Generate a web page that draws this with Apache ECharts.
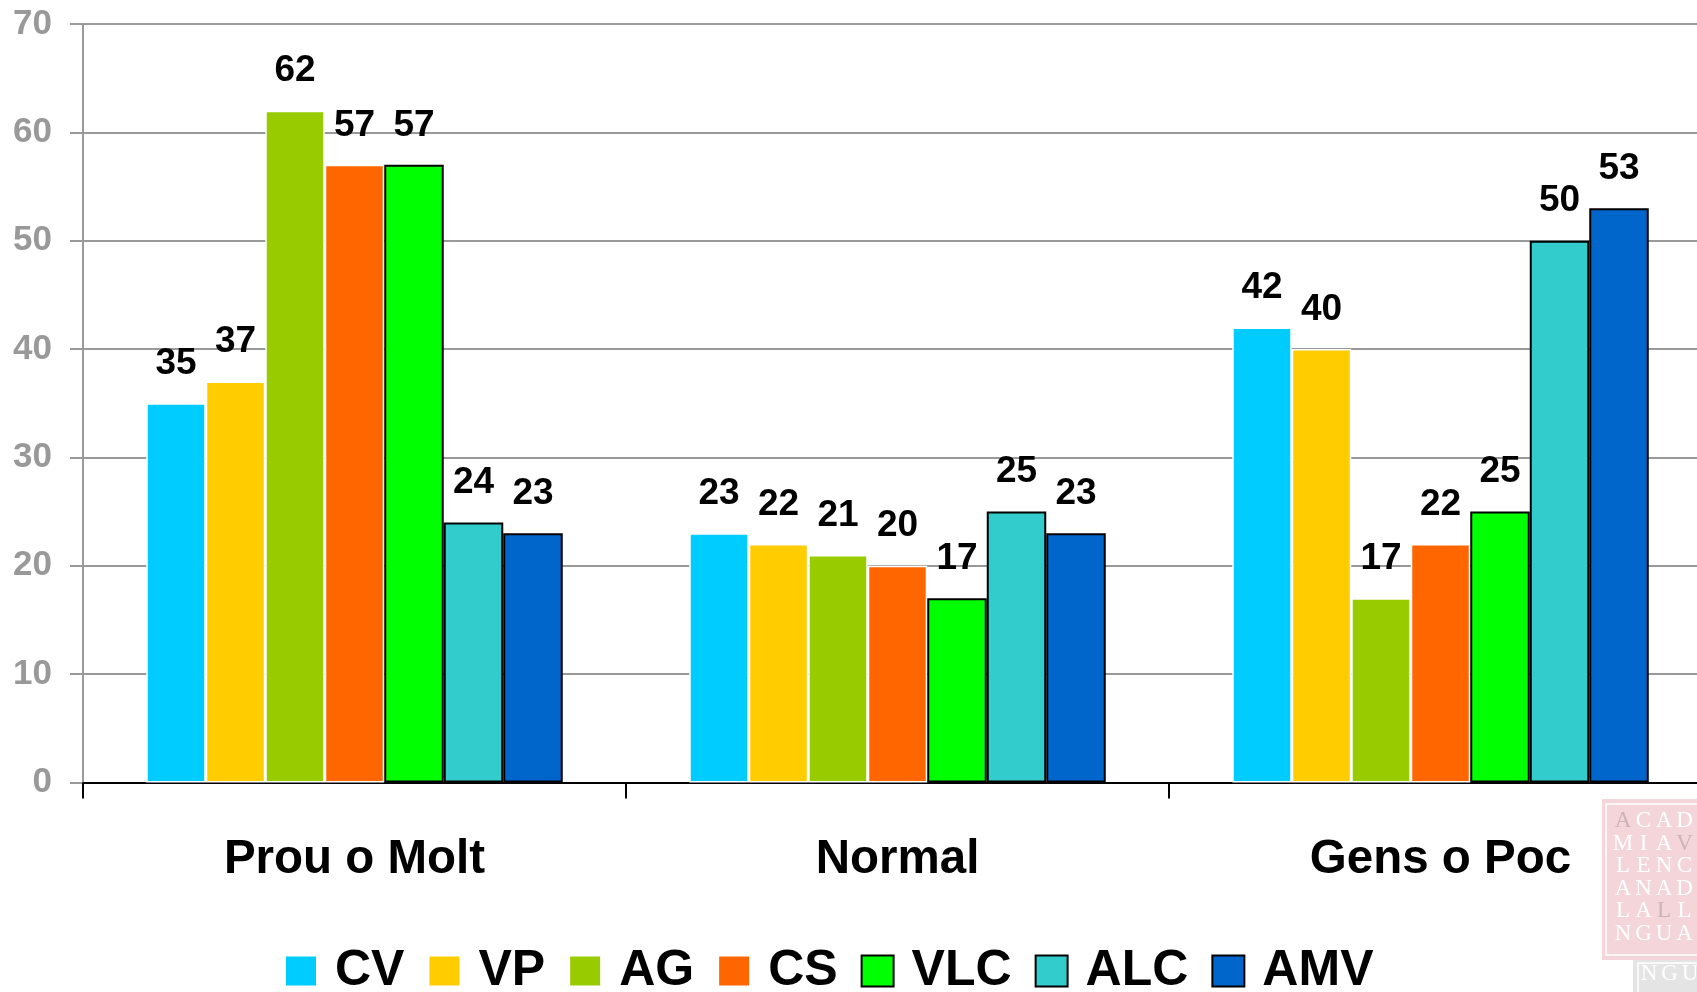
<!DOCTYPE html>
<html><head><meta charset="utf-8">
<script src="https://cdn.jsdelivr.net/npm/echarts@6/dist/echarts.min.js"></script>
<style>html,body{margin:0;padding:0;background:#fff}#c{width:1697px;height:992px}</style>
</head><body><div id="c"></div>
<script>
const categories = ['Prou o Molt', 'Normal', 'Gens o Poc'];
const seriesNames = ['CV', 'VP', 'AG', 'CS', 'VLC', 'ALC', 'AMV'];
const CV  = [35, 23, 42];
const VP  = [37, 22, 40];
const AG  = [62, 21, 17];
const CS  = [57, 20, 22];
const VLC = [57, 17, 25];
const ALC = [24, 25, 50];
const AMV = [23, 23, 53];
const yTicks = [0, 10, 20, 30, 40, 50, 60, 70];

const values = [CV, VP, AG, CS, VLC, ALC, AMV];
const colors = ['#00CCFF', '#FFCC00', '#99CC00', '#FF6600', '#00FF00', '#33CCCC', '#0066CC'];
const outlined = [false, false, false, false, true, true, true];
const FONT = '"Liberation Sans", Arial, sans-serif';

const series = seriesNames.map((n, i) => ({
  name: n, type: 'bar', data: values[i], barWidth: 59.5, barGap: '0%',
  itemStyle: { color: colors[i], borderColor: outlined[i] ? '#000' : '#fff', borderWidth: outlined[i] ? 2 : 1.5 },
  label: { show: true, position: 'top', distance: 21, color: '#000', fontSize: 37, fontWeight: 'bold', fontFamily: FONT }
}));

// watermark logo (decoration)
const logoRows = ['ACADE', 'MIAVA', 'LENCI', 'ANADE', 'LALLE', 'NGUA'];
const greyLetters = { '0,0': 1, '1,3': 1, '4,2': 1 };
const LOGO_FONT = '23px "Liberation Serif", "DejaVu Serif", serif';
const graphics = [
  { type: 'rect', shape: { x: 1602, y: 799, width: 120, height: 161 }, style: { fill: '#f4d5d9' }, z: 0 },
  { type: 'rect', shape: { x: 1606, y: 804, width: 120, height: 151 }, style: { fill: null, stroke: '#fff', lineWidth: 1.5 }, z: 1 },
  { type: 'rect', shape: { x: 1633, y: 960, width: 80, height: 32 }, style: { fill: '#e4e4e4' }, z: 0 },
  { type: 'rect', shape: { x: 1638, y: 963, width: 80, height: 40 }, style: { fill: null, stroke: '#fff', lineWidth: 1.5 }, z: 1 }
];
logoRows.forEach((row, r) => {
  row.split('').forEach((ch, c) => {
    graphics.push({ type: 'text', x: 1623 + c * 20.5, y: 821 + r * 22.6, z: 2,
      style: { text: ch, fill: greyLetters[r + ',' + c] ? '#cbb5b8' : '#ffffff', font: LOGO_FONT, align: 'center', verticalAlign: 'middle' } });
  });
});
'NGU'.split('').forEach((ch, c) => {
  graphics.push({ type: 'text', x: 1649 + c * 20.5, y: 974, z: 2,
    style: { text: ch, fill: '#ffffff', font: LOGO_FONT, align: 'center', verticalAlign: 'middle' } });
});

const chart = echarts.init(document.getElementById('c'), null, { renderer: 'canvas' });
chart.setOption({
  animation: false,
  backgroundColor: '#fff',
  grid: { left: 83, width: 1629, top: 24, bottom: 209.5, containLabel: false, outerBoundsMode: 'none' },
  legend: {
    data: seriesNames, icon: 'rect', left: 284, top: 946, padding: 0, itemGap: 23, itemWidth: 32, itemHeight: 31,
    textStyle: { fontSize: 50, fontWeight: 'bold', color: '#000', fontFamily: FONT, padding: [16, 0, 0, 13] }
  },
  xAxis: {
    type: 'category', data: categories,
    axisLine: { lineStyle: { color: '#000', width: 2 } },
    axisTick: { show: true, length: 16, lineStyle: { color: '#000', width: 2 } },
    axisLabel: { fontSize: 47.5, fontWeight: 'bold', color: '#000', fontFamily: FONT, margin: 53 }
  },
  yAxis: {
    type: 'value', min: yTicks[0], max: yTicks[yTicks.length - 1], interval: 10,
    axisLine: { show: true, lineStyle: { color: '#999', width: 2 } },
    axisTick: { show: true, length: 13, lineStyle: { color: '#999', width: 2 } },
    axisLabel: { fontSize: 35, fontWeight: 'bold', color: '#999', fontFamily: FONT, margin: 31 },
    splitLine: { lineStyle: { color: '#999', width: 2 } }
  },
  series: series,
  graphic: graphics
});
</script></body></html>
